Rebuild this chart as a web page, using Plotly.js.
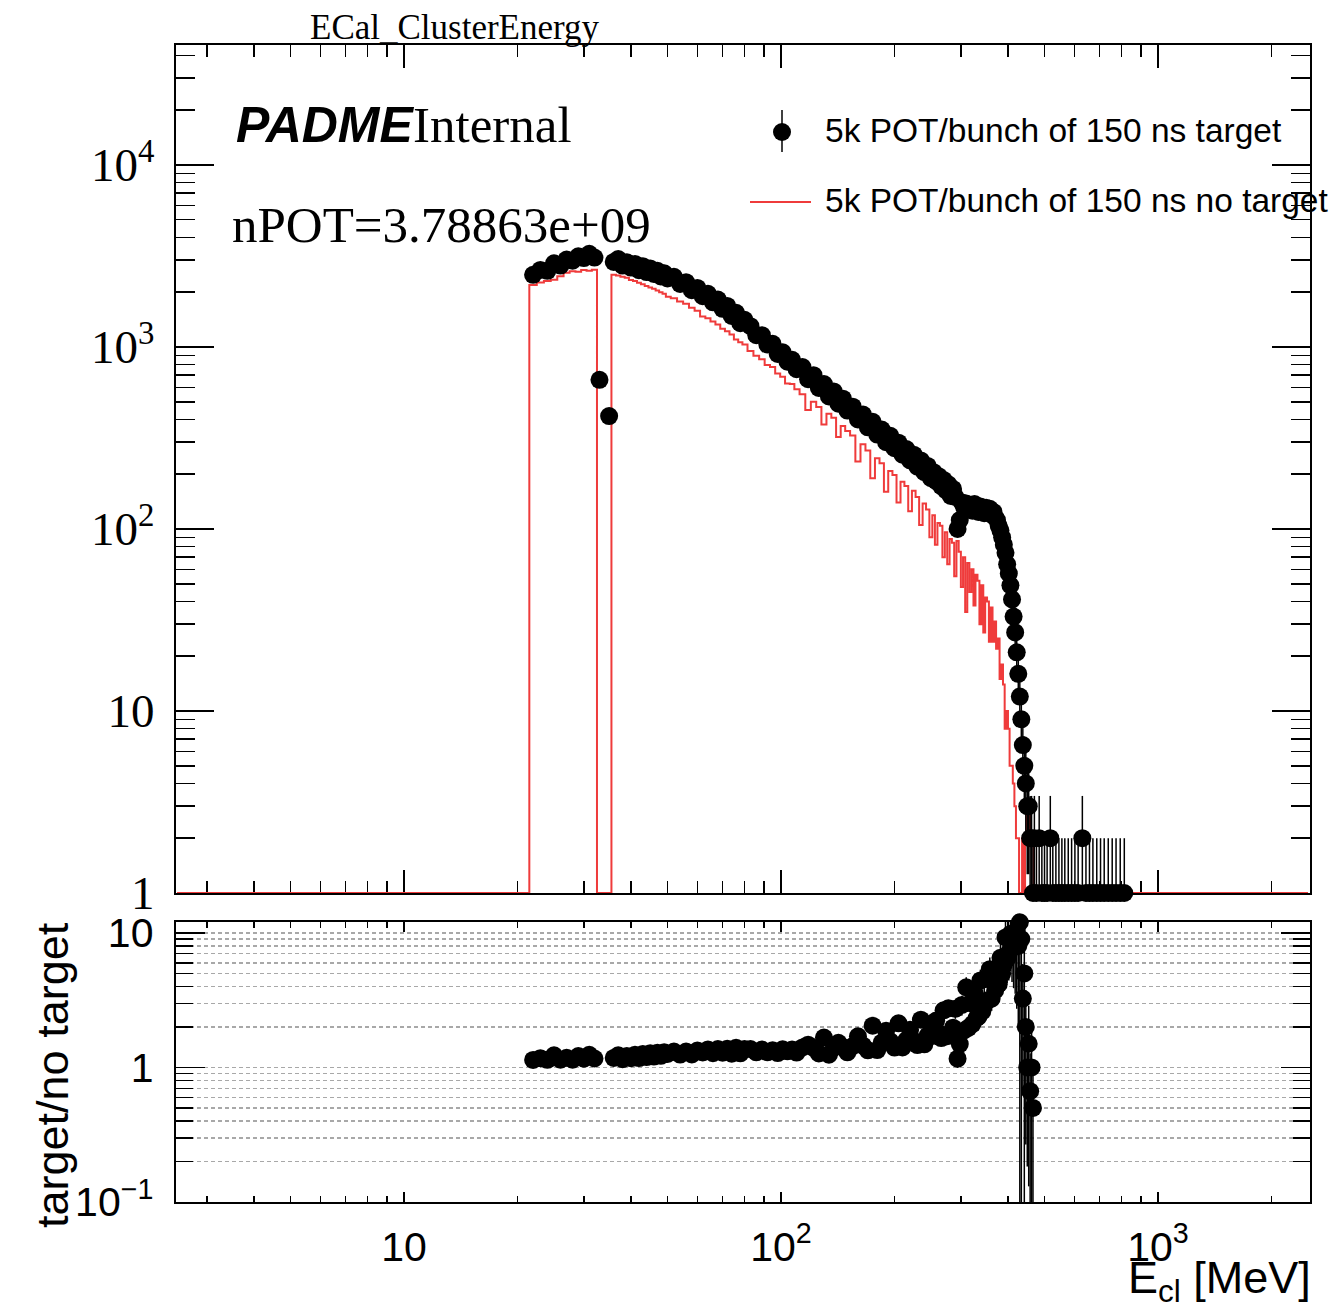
<!DOCTYPE html>
<html><head><meta charset="utf-8">
<script src="https://cdn.plot.ly/plotly-3.0.1.min.js"></script>
<style>html,body{margin:0;padding:0;background:#fff;}#chart{width:1343px;height:1309px;}</style>
</head><body><div id="chart"></div>
<script>
// ---- data ----
// bin centres, MeV
const energy = [
  22,23,24,25,26,27,28,29,30,31,32,33,34,35,36,37,38,39,40,41,42,43,44,45,46,47,48,49,50,
  52,54,56,58,60,62,64,66,68,70,72,74,76,78,80,
  83,86,89,92,95,98,101,104,107,110,
  114,118,122,126,130,134,138,142,146,150,
  155,160,165,170,175,180,185,190,195,200,205,210,215,220,225,230,235,240,245,250,
  254,258,262,266,270,274,278,282,286,290,294,298,302,306,310,314,318,322,326,330,
  334,338,342,346,350,354,358,362,366,370,374,378,382,386,390,394,398,402,406,410,
  414,418,422,426,430,434,438,442,446,450,
  454,458,462,466,470,
  476,484,492,500,508,518,526,536,546,556,566,578,590,602,614,630,644,658,672,688,704,720,738,756,774,794,814
];
// "5k POT/bunch of 150 ns target"
const target = [
  2490,2650,2620,2880,2800,3020,2980,3150,3080,3250,3100,660,0,417,2930,3040,2800,2920,2730,2860,2640,2780,2580,2700,2520,2620,2440,2540,2380,
  2430,2220,2270,2050,2110,1900,1960,1760,1820,1620,1680,1480,1540,1350,1410,
  1300,1160,1160,1030,1040,915,935,830,850,755,
  775,665,700,595,625,535,570,488,520,447,
  470,400,425,362,388,330,352,300,325,278,298,256,275,238,256,220,238,205,222,190,
  205,183,195,172,186,163,176,152,166,150,100,112,140,132,138,128,135,126,137,130,
  124,133,128,122,131,126,129,120,124,116,112,104,98,90,82,74,64,57,49,41,
  33,27,21,16,12,9,6.5,5,4,3,
  3,2,2,1,2,
  1,2,1,1,1,2,1,1,1,1,1,1,1,1,1,2,1,1,1,1,1,1,1,1,1,1,1
];
// "5k POT/bunch of 150 ns no target"
const noTarget = [
  2190,2260,2300,2340,2450,2560,2610,2590,2650,2620,2660,0,0,0,2490,2470,2430,2400,2330,2300,2250,2210,2160,2120,2090,2040,2000,1960,1890,
  1850,1780,1730,1640,1580,1470,1440,1380,1330,1260,1220,1170,1100,1060,1030,
  950,895,855,795,775,715,685,630,625,585,
  550,450,500,468,375,430,408,320,368,345,
  326,235,292,270,190,245,230,160,208,198,140,182,172,125,162,150,105,138,128,90,
  119,82,108,104,70,96,64,88,84,55,86,75,48,70,35,65,45,60,38,56,
  52,30,49,27,42,40,24,37,24,31,22,25,15,18,14,8,10,8,5,5,
  4,3,2,2,1,1,2,1,2,3,
  2,3,2,2,0,
  0,0,0,0,0,0,0,0,0,0,0,0,0,0,0,0,0,0,0,0,0,0,0,0,0,0,0
];
const histRange = [2.5, 2500];   // histogram axis extent (empty outside the data)
const titleText = 'ECal_ClusterEnergy';
const nPOTText = 'nPOT=3.78863e+09';
const legendTarget = '5k POT/bunch of 150 ns target';
const legendNoTarget = '5k POT/bunch of 150 ns no target';

// ---- layout constants ----
const W = 1343, H = 1309;
const px = x => x / W, py = y => 1 - y / H;
const xLogRange = [0.3952, 3.4032];
const yTopRange = [0, 4.659];
const yRatRange = [-1, 1.081];
const topMax = Math.pow(10, yTopRange[1]), topMin = Math.pow(10, yTopRange[0]);
const ratMax = Math.pow(10, yRatRange[1]), ratMin = Math.pow(10, yRatRange[0]);
const serif = 'Liberation Serif, Times New Roman, serif';
const sans = 'Liberation Sans, Arial, Helvetica, sans-serif';
const RED = '#ef3b3b';

// red step histogram (empty bins drawn on the axis floor, like ROOT)
const n = energy.length;
const edges = [energy[0] - (energy[1] - energy[0]) / 2];
for (let i = 1; i < n; i++) edges.push((energy[i - 1] + energy[i]) / 2);
edges.push(energy[n - 1] + (energy[n - 1] - energy[n - 2]) / 2);
const redX = [histRange[0], ...edges, histRange[1]];
const redY = [topMin, ...noTarget.map(v => v > 0 ? v : topMin), topMin, topMin];

// black points with Poisson errors
const tx = [], ty = [], tUp = [], tDn = [];
energy.forEach((e, i) => {
  const v = target[i];
  if (v > 0) {
    const er = Math.sqrt(v);
    tx.push(e); ty.push(v);
    tUp.push(Math.min(v + er, topMax) - v);
    tDn.push(v - Math.max(v - er, topMin));
  }
});

// ratio target / no target
const rx = [], ry = [], rUp = [], rDn = [];
energy.forEach((e, i) => {
  const a = target[i], b = noTarget[i];
  if (a > 0 && b > 0) {
    const r = a / b, er = r * Math.sqrt(1 / a + 1 / b);
    rx.push(e); ry.push(r);
    rUp.push(Math.min(r + er, ratMax) - r);
    rDn.push(r - Math.max(r - er, ratMin));
  }
});

const traces = [
  { x: redX, y: redY, xaxis: 'x', yaxis: 'y', type: 'scatter', mode: 'lines',
    line: { shape: 'hv', color: RED, width: 2 }, hoverinfo: 'skip' },
  { x: tx, y: ty, xaxis: 'x', yaxis: 'y', type: 'scatter', mode: 'markers', cliponaxis: false,
    marker: { symbol: 'circle', size: 18, color: '#000' },
    error_y: { type: 'data', symmetric: false, array: tUp, arrayminus: tDn, color: '#000', thickness: 1.5, width: 0 } },
  { x: rx, y: ry, xaxis: 'x2', yaxis: 'y2', type: 'scatter', mode: 'markers', cliponaxis: false,
    marker: { symbol: 'circle', size: 18, color: '#000' },
    error_y: { type: 'data', symmetric: false, array: rUp, arrayminus: rDn, color: '#000', thickness: 1.5, width: 0 } }
];

const xDomain = [px(176), px(1310)];
const common = { type: 'log', dtick: 1, showline: true, linecolor: '#000', linewidth: 2,
  mirror: 'ticks', ticks: 'inside', tickcolor: '#000', tickwidth: 1.5, zeroline: false,
  exponentformat: 'power', showgrid: false, color: '#000' };

const layout = {
  width: W, height: H, margin: { l: 0, r: 0, t: 0, b: 0 }, showlegend: false,
  paper_bgcolor: '#fff', plot_bgcolor: '#fff',
  xaxis: Object.assign({}, common, { domain: xDomain, anchor: 'y', range: xLogRange, ticklen: 23,
    minor: { ticks: 'inside', ticklen: 12, tickwidth: 1.5, tickcolor: '#000', dtick: 'D1' },
    showticklabels: false, layer: 'below traces' }),
  yaxis: Object.assign({}, common, { domain: [py(893), py(45)], anchor: 'x', range: yTopRange, ticklen: 38,
    minor: { ticks: 'inside', ticklen: 19, tickwidth: 1.5, tickcolor: '#000', dtick: 'D1' },
    tickfont: { family: serif, size: 37.6, color: '#000' }, ticklabelstandoff: 12 }),
  xaxis2: Object.assign({}, common, { domain: xDomain, anchor: 'y2', range: xLogRange, matches: 'x', ticklen: 10,
    minor: { ticks: 'inside', ticklen: 6, tickwidth: 1.5, tickcolor: '#000', dtick: 'D1' },
    tickfont: { family: sans, size: 32.8, color: '#000' }, ticklabelstandoff: 9 }),
  yaxis2: Object.assign({}, common, { domain: [py(1202), py(922)], anchor: 'x2', range: yRatRange, ticklen: 29,
    showgrid: true, gridcolor: '#a8a8a8', gridwidth: 1.5, griddash: '4px,3px',
    minor: { ticks: 'inside', ticklen: 17, tickwidth: 1.5, tickcolor: '#000', dtick: 'D1',
      showgrid: true, gridcolor: '#a8a8a8', gridwidth: 1.5, griddash: '4px,3px' },
    tickfont: { family: sans, size: 32.8, color: '#000' }, ticklabelstandoff: 14 }),
  annotations: [
    { xref: 'paper', yref: 'paper', x: px(455), y: py(28), xanchor: 'center', yanchor: 'middle',
      text: titleText, showarrow: false, font: { family: serif, size: 35, color: '#000' } },
    { xref: 'paper', yref: 'paper', x: px(417), y: py(125), xanchor: 'right', yanchor: 'middle',
      text: '<b><i>PADME</i></b>', showarrow: false, font: { family: sans, size: 50, color: '#000' } },
    { xref: 'paper', yref: 'paper', x: px(411), y: py(125), xanchor: 'left', yanchor: 'middle',
      text: 'Internal', showarrow: false, font: { family: serif, size: 51, color: '#000' } },
    { xref: 'paper', yref: 'paper', x: px(230), y: py(225), xanchor: 'left', yanchor: 'middle',
      text: nPOTText, showarrow: false, font: { family: serif, size: 51, color: '#000' } },
    { xref: 'paper', yref: 'paper', x: px(823), y: py(131), xanchor: 'left', yanchor: 'middle',
      text: legendTarget, showarrow: false, font: { family: sans, size: 33.5, color: '#000' } },
    { xref: 'paper', yref: 'paper', x: px(823), y: py(201), xanchor: 'left', yanchor: 'middle',
      text: legendNoTarget, showarrow: false, font: { family: sans, size: 33.5, color: '#000' } },
    { xref: 'paper', yref: 'paper', x: px(1313), y: py(1280), xanchor: 'right', yanchor: 'middle',
      text: 'E<sub>cl</sub> [MeV]', showarrow: false, font: { family: sans, size: 45, color: '#000' } },
    { xref: 'paper', yref: 'paper', x: px(52), y: py(1075), xanchor: 'center', yanchor: 'middle', textangle: -90,
      text: 'target/no target', showarrow: false, font: { family: sans, size: 45, color: '#000' } }
  ],
  shapes: [
    { type: 'line', xref: 'paper', yref: 'paper', x0: px(782), x1: px(782), y0: py(110), y1: py(152),
      line: { color: '#000', width: 1.5 } },
    { type: 'circle', xref: 'paper', yref: 'paper', x0: px(773), x1: px(791), y0: py(123), y1: py(141),
      fillcolor: '#000', line: { color: '#000', width: 0 } },
    { type: 'line', xref: 'paper', yref: 'paper', x0: px(750), x1: px(811), y0: py(202), y1: py(202),
      line: { color: RED, width: 2 } }
  ]
};

Plotly.newPlot('chart', traces, layout, { staticPlot: true, displayModeBar: false });
</script>
</body></html>
